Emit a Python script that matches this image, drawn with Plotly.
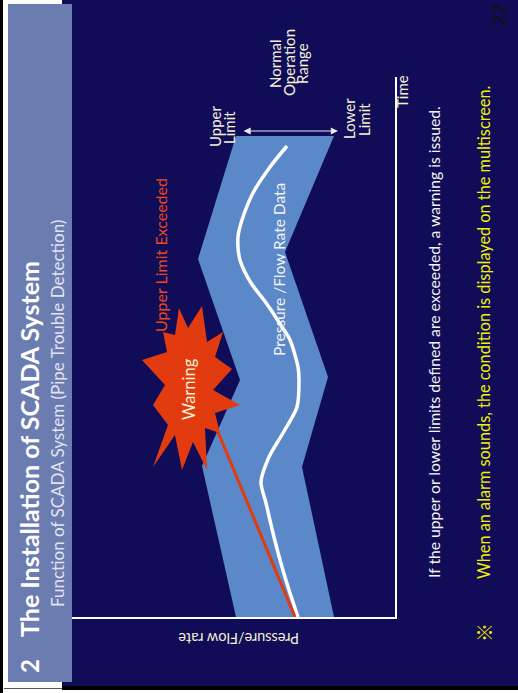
import plotly.graph_objects as go

W, H = 518, 693

# ---- chart data (time runs up the page, pressure runs leftwards) ----
band_upper_t = [0, 151, 237, 358, 481]
band_upper_p = [159, 193, 155, 197, 159]
band_lower_t = [481, 365, 240, 150, 0]
band_lower_p = [61, 110, 67, 93, 61]

data_t = [0, 24, 50, 84, 114, 135, 160, 184, 210, 237, 250, 277, 290, 307, 317, 334, 357, 380, 397, 424, 450, 471]
data_p = [97, 105, 113, 122, 129, 134, 126, 112, 98, 96, 97, 105, 113, 124, 131, 144, 155, 157, 153, 142, 125, 108]

exceed_t = [0, 197]
exceed_p = [100, 182]

star_t = [309, 289, 311, 275, 285, 260, 248, 227, 212, 204, 184, 189, 147, 175, 147, 182, 150, 192, 212, 232, 257, 265, 285, 282, 309]
star_p = [216, 207, 193, 188, 172, 180, 163, 182, 155, 180, 175, 190, 188, 202, 213, 220, 242, 227, 242, 230, 253, 228, 232, 220, 216]

range_arrow_t = 486
range_arrow_p = [57, 153]

FONT = "Lato"
NAVY = "#110c58"
BAR = "#6b7cb1"
BAND = "#5b88c9"
RED = "#e13b0f"
CREAM = "#f4f0d6"


def fx(x):
    return x / W


def fy(y):
    return 1 - y / H


fig = go.Figure()

band_t = band_upper_t + band_lower_t
band_p = band_upper_p + band_lower_p
fig.add_trace(go.Scatter(x=band_p, y=band_t, mode="lines", fill="toself",
                         fillcolor=BAND, line=dict(width=0, color=BAND),
                         hoverinfo="skip"))
fig.add_trace(go.Scatter(x=data_p, y=data_t, mode="lines",
                         line=dict(color="white", width=3.5, shape="spline", smoothing=0.8),
                         hoverinfo="skip"))
fig.add_trace(go.Scatter(x=exceed_p, y=exceed_t, mode="lines",
                         line=dict(color=RED, width=3), hoverinfo="skip"))
fig.add_trace(go.Scatter(x=star_p, y=star_t, mode="lines", fill="toself",
                         fillcolor=RED, line=dict(width=0, color=RED),
                         hoverinfo="skip"))

shapes = [
    # navy slide background
    dict(type="rect", xref="paper", yref="paper", x0=fx(62), x1=fx(518), y0=fy(686), y1=fy(0),
         fillcolor=NAVY, line=dict(width=0), layer="below"),
    # title bar
    dict(type="rect", xref="paper", yref="paper", x0=fx(8), x1=fx(72), y0=fy(682), y1=fy(4),
         fillcolor=BAR, line=dict(width=0), layer="below"),
    # frame lines
    dict(type="rect", xref="paper", yref="paper", x0=fx(0), x1=fx(3), y0=fy(693), y1=fy(0),
         fillcolor="black", line=dict(width=0), layer="below"),
    dict(type="rect", xref="paper", yref="paper", x0=fx(62), x1=fx(518), y0=fy(690), y1=fy(686),
         fillcolor="black", line=dict(width=0), layer="below"),
    dict(type="line", xref="paper", yref="paper", x0=fx(4), x1=fx(62), y0=fy(688.5), y1=fy(688.5),
         line=dict(color="#555555", width=1), layer="below"),
]

ann = []


def txt(text, x, y, size, color=CREAM, angle=-90, bold=False, ref="paper", family=FONT):
    if bold:
        text = "<b>" + text + "</b>"
    if ref == "paper":
        xx, yy, xr, yr = fx(x), fy(y), "paper", "paper"
    else:
        xx, yy, xr, yr = x, y, "x", "y"
    ann.append(dict(text=text, x=xx, y=yy, xref=xr, yref=yr, showarrow=False,
                    textangle=angle, xanchor="center", yanchor="middle",
                    font=dict(family=family, size=size, color=color)))


# title block
txt("2", 29, 666, 24, "white", bold=True)
txt("The Installation of SCADA System", 29, 449, 25, "white", bold=True)
txt("Function of SCADA System (Pipe Trouble Detection)", 57, 414, 17, "#e2e2f2")
txt("22", 500, 15, 20, "#111111", family="Liberation Sans")

# axis labels
txt("Time", 402, 92, 15)
txt("Pressure/Flow rate", 239, 639, 14.5, angle=180)

# range labels
txt("Normal", 275, 64, 15)
txt("Operation", 289, 63, 15)
txt("Range", 302, 64, 15)
txt("Upper", 215, 126, 15)
txt("Limit", 229, 128, 15)
txt("Lower", 349, 119, 15)
txt("Limit", 364, 120, 15)

# diagram texts (in chart units)
txt("Upper Limit Exceeded", 235, 362, 16, "#ea4a1e", ref="data")
txt("Pressure /Flow Rate Data", 116, 347, 15.5, "#f4f4f4", ref="data")
txt("Warning", 206, 228, 16.5, "#fff4d6", ref="data")

# notes
txt("If the upper or lower limits defined are exceeded, a warning is issued.", 434, 342, 15.7, "#f4f4f0")
txt("When an alarm sounds, the condition is displayed on the multiscreen.", 483, 333, 16.3, "#f2f200")
txt("※", 483, 633, 19, "#f2f200", family="Noto Sans CJK JP")

# double arrow for the normal range
ann.append(dict(x=range_arrow_p[0], y=range_arrow_t, ax=range_arrow_p[1], ay=range_arrow_t,
                xref="x", yref="y", axref="x", ayref="y", text="", showarrow=True,
                arrowhead=2, startarrowhead=2, arrowside="end+start", arrowsize=1.2,
                startarrowsize=1.2, arrowwidth=1.2, arrowcolor="#e8e8f0"))

fig.update_layout(
    width=W, height=H, autosize=False,
    margin=dict(l=0, r=0, t=0, b=0),
    paper_bgcolor="white", plot_bgcolor="rgba(0,0,0,0)",
    showlegend=False, shapes=shapes, annotations=ann,
    xaxis=dict(domain=[72 / W, 395 / W], range=[323, 0], showgrid=False, zeroline=False,
               showticklabels=False, ticks="", showline=True, linecolor="white", linewidth=1.5),
    yaxis=dict(domain=[76 / H, 616 / H], range=[0, 540], side="right", showgrid=False,
               zeroline=False, showticklabels=False, ticks="", showline=True,
               linecolor="white", linewidth=1.5),
)

fig.write_html("out.html")
